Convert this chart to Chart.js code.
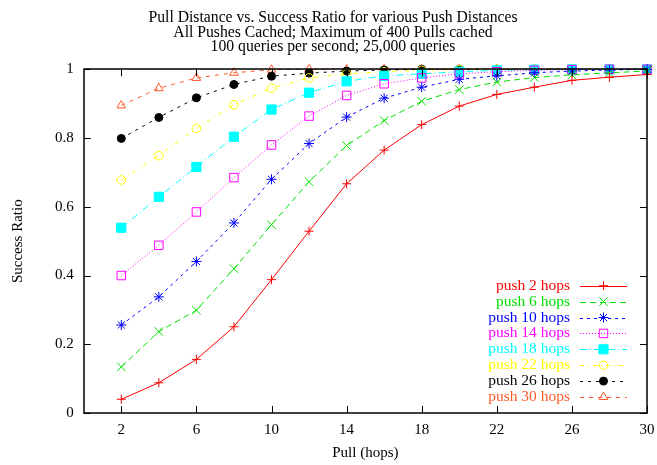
<!DOCTYPE html>
<html>
<head>
<meta charset="utf-8">
<script src="https://cdn.jsdelivr.net/npm/chart.js@4.4.1/dist/chart.umd.min.js"></script>
<style>
  html, body { margin: 0; padding: 0; background: #fff; }
  #wrap { width: 657px; height: 465px; }
</style>
</head>
<body>
<div id="wrap"><canvas id="chart" width="657" height="465"></canvas></div>
<script>
// Pull distance (hops) on the x axis
const pulls = [2, 4, 6, 8, 10, 12, 14, 16, 18, 20, 22, 24, 26, 28, 30];
const xTicks = [2, 6, 10, 14, 18, 22, 26, 30];

// Success ratio for each push distance
const push2  = [0.040, 0.088, 0.156, 0.251, 0.388, 0.529, 0.667, 0.765, 0.839, 0.893, 0.927, 0.948, 0.968, 0.977, 0.985];
const push6  = [0.134, 0.237, 0.299, 0.420, 0.548, 0.673, 0.778, 0.851, 0.907, 0.941, 0.963, 0.976, 0.984, 0.990, 0.995];
const push10 = [0.256, 0.338, 0.441, 0.553, 0.680, 0.784, 0.861, 0.916, 0.948, 0.971, 0.981, 0.990, 0.995, 0.998, 1.000];
const push14 = [0.400, 0.488, 0.585, 0.685, 0.780, 0.864, 0.924, 0.958, 0.975, 0.987, 0.993, 0.997, 0.999, 1.000, 1.000];
const push18 = [0.539, 0.629, 0.716, 0.804, 0.883, 0.932, 0.965, 0.981, 0.987, 0.993, 0.997, 0.999, 1.000, 1.000, 1.000];
const push22 = [0.678, 0.749, 0.828, 0.897, 0.945, 0.975, 0.987, 0.993, 0.997, 0.999, 1.000, 1.000, 1.000, 1.000, 1.000];
const push26 = [0.799, 0.860, 0.917, 0.956, 0.980, 0.989, 0.995, 0.998, 1.000, 1.000, 1.000, 1.000, 1.000, 1.000, 1.000];
const push30 = [0.895, 0.945, 0.975, 0.990, 0.999, 1.000, 1.000, 1.000, 1.000, 1.000, 1.000, 1.000, 1.000, 1.000, 1.000];

const labels = ['push 2 hops', 'push 6 hops', 'push 10 hops', 'push 14 hops',
                'push 18 hops', 'push 22 hops', 'push 26 hops', 'push 30 hops'];

const FONT = '"Liberation Serif", "DejaVu Serif", serif';

function series(label, values, color, dash, style, radius, filled) {
    return {
        label,
        data: values.map((v, i) => ({ x: pulls[i], y: v })),
        borderColor: color,
        backgroundColor: filled ? color : 'rgba(0,0,0,0)',
        borderWidth: 1,
        borderDash: dash,
        pointStyle: style,
        pointRadius: radius,
        pointHoverRadius: radius,
        pointBorderColor: color,
        pointBackgroundColor: filled ? color : 'rgba(0,0,0,0)',
        pointBorderWidth: 1,
        tension: 0,
        fill: false,
        clip: false
    };
}

// Box around the plot with inward ticks on all four sides
const framePlugin = {
    id: 'frame',
    afterDatasetsDraw(chart) {
        const { ctx, chartArea: a, scales } = chart;
        const len = 7;
        ctx.save();
        ctx.strokeStyle = '#000';
        ctx.lineWidth = 1;
        ctx.beginPath();
        scales.x.ticks.forEach(t => {
            const px = Math.round(scales.x.getPixelForValue(t.value)) + 0.5;
            ctx.moveTo(px, a.bottom); ctx.lineTo(px, a.bottom - len);
            ctx.moveTo(px, a.top); ctx.lineTo(px, a.top + len);
        });
        scales.y.ticks.forEach(t => {
            const py = Math.round(scales.y.getPixelForValue(t.value)) + 0.5;
            ctx.moveTo(a.left, py); ctx.lineTo(a.left + len, py);
            ctx.moveTo(a.right, py); ctx.lineTo(a.right - len, py);
        });
        ctx.stroke();
        ctx.lineWidth = 1.5;
        ctx.strokeRect(Math.round(a.left), Math.round(a.top),
                       Math.round(a.right - a.left), Math.round(a.bottom - a.top));
        ctx.restore();
    }
};

// Key in the lower right: coloured label, then a line sample with its marker
const keyPlugin = {
    id: 'key',
    afterDraw(chart) {
        const { ctx, chartArea: a } = chart;
        const sets = chart.data.datasets;
        const step = 15.9;
        const textRight = a.right - 77;
        const lineL = a.right - 67, lineR = a.right - 20;
        ctx.save();
        ctx.font = '15.5px ' + FONT;
        ctx.textAlign = 'right';
        ctx.textBaseline = 'middle';
        sets.forEach((ds, i) => {
            const y = a.bottom - 16 - (sets.length - 1 - i) * step;
            ctx.fillStyle = ds.borderColor;
            ctx.fillText(ds.label, textRight, y);
            ctx.strokeStyle = ds.borderColor;
            ctx.lineWidth = 1;
            ctx.setLineDash(ds.borderDash);
            ctx.beginPath();
            ctx.moveTo(lineL, Math.round(y) + 0.5);
            ctx.lineTo(lineR, Math.round(y) + 0.5);
            ctx.stroke();
            ctx.setLineDash([]);
            ctx.fillStyle = ds.pointBackgroundColor;
            Chart.helpers.drawPoint(ctx, {
                pointStyle: ds.pointStyle, radius: ds.pointRadius, rotation: 0, borderWidth: 1
            }, (lineL + lineR) / 2, y);
        });
        ctx.restore();
    }
};

new Chart(document.getElementById('chart'), {
    type: 'line',
    data: {
        datasets: [
            series(labels[0], push2,  '#ff0000', [],            'cross',    4.5, false),
            series(labels[1], push6,  '#00e000', [6, 4],        'crossRot', 6,   false),
            series(labels[2], push10, '#0000ff', [3, 4],        'star',     5,   false),
            series(labels[3], push14, '#ff00ff', [1, 2],        'rect',     6,   false),
            series(labels[4], push18, '#00ffff', [7, 3, 1, 3],  'rect',     6.5, true),
            series(labels[5], push22, '#ffff00', [4, 4, 1, 4],  'circle',   4.3, false),
            series(labels[6], push26, '#000000', [3, 5],        'circle',   4,   true),
            series(labels[7], push30, '#ff5a28', [4, 5],        'triangle', 5,   false)
        ]
    },
    options: {
        responsive: false,
        animation: false,
        devicePixelRatio: 1,
        layout: { padding: { left: 9, right: 0, top: 2, bottom: 3 } },
        plugins: {
            legend: { display: false },
            tooltip: { enabled: false },
            title: {
                display: true,
                text: ['Pull Distance vs. Success Ratio for various Push Distances',
                       'All Pushes Cached; Maximum of 400 Pulls cached',
                       '100 queries per second; 25,000 queries'],
                color: '#000',
                font: { family: FONT, size: 15.7, weight: 'normal', lineHeight: 0.92 },
                padding: { top: 9, bottom: 15 }
            }
        },
        scales: {
            x: {
                type: 'linear',
                min: 0,
                max: 30,
                afterBuildTicks: scale => { scale.ticks = xTicks.map(v => ({ value: v })); },
                afterFit: scale => { scale.paddingRight = 10; },
                grid: { display: false, drawTicks: false },
                border: { display: false },
                ticks: { color: '#000', font: { family: FONT, size: 15 }, padding: 8, maxRotation: 0 },
                title: { display: true, text: 'Pull (hops)', color: '#000', font: { family: FONT, size: 15 }, padding: { top: -3, bottom: 0 } }
            },
            y: {
                min: 0,
                max: 1,
                grid: { display: false, drawTicks: false },
                border: { display: false },
                ticks: { stepSize: 0.2, color: '#000', font: { family: FONT, size: 15 }, padding: 10,
                         callback: v => String(Math.round(v * 10) / 10) },
                title: { display: true, text: 'Success Ratio', color: '#000', font: { family: FONT, size: 15 }, padding: { top: 0, bottom: 18 } }
            }
        }
    },
    plugins: [framePlugin, keyPlugin]
});
</script>
</body>
</html>
